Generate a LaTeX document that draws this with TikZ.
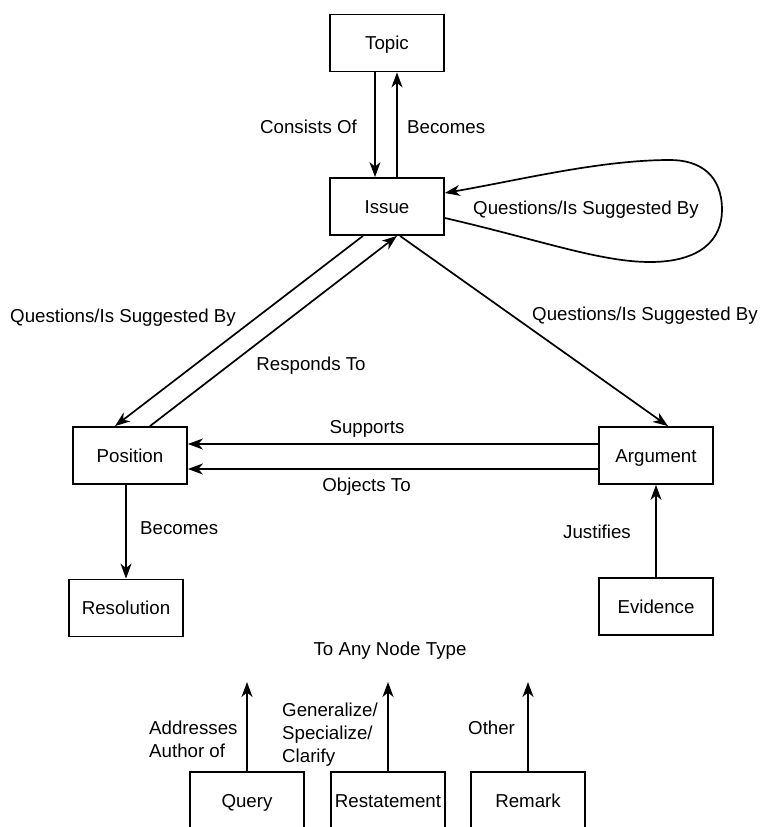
\documentclass[tikz,border=0pt]{standalone}
\usepackage{fontspec}
\setmainfont{Liberation Sans}
\usetikzlibrary{arrows.meta,calc}
\begin{document}
\begin{tikzpicture}[x=1pt,y=-1pt,
  every node/.style={font=\fontsize{18.7}{23}\selectfont},
  box/.style={draw,line width=1.8pt,minimum width=114pt,minimum height=57pt,inner sep=0pt,
    text height=13.4pt,text depth=0pt},
  lbl/.style={inner sep=0pt,anchor=base},
  arr/.style={line width=1.7pt,-{Stealth[length=15pt,width=11pt,inset=4.5pt]}}]
\clip (0,0) rectangle (760,827);
\useasboundingbox (0,0) rectangle (760,827);

% node boxes
\node[box] (topic) at (387,43) {Topic};
\node[box] (issue) at (387,206.5) {Issue};
\node[box] (position) at (130,455.5) {Position};
\node[box] (argument) at (656,455.5) {Argument};
\node[box] (resolution) at (126,608) {Resolution};
\node[box] (evidence) at (656,606.5) {Evidence};
\node[box] (query) at (247,800.5) {Query};
\node[box] (restatement) at (388,800.5) {Restatement};
\node[box] (remark) at (528,800.5) {Remark};

% free ends of the arrows pointing to any node type
\coordinate (qtop) at (247,682);
\coordinate (rtop) at (388,682);
\coordinate (mtop) at (528,682);

% topic <-> issue
\draw[arr] ($(topic.south)+(-12,0)$) -- ($(issue.north)+(-12,0)$);
\draw[arr] ($(issue.north)+(10,0)$) -- ($(topic.south)+(10,0)$);
\node[lbl,anchor=base east] (lconsists) at (357,133) {Consists Of};
\node[lbl,anchor=base west] (lbecomes1) at (407,133) {Becomes};

% self loop on issue
\draw[arr] ($(issue.east)+(0,11.5)$) .. controls (540,240) and (600,262) .. (650,262)
  .. controls (700,262) and (722,240) .. (722,210)
  .. controls (722,175) and (700,160) .. (670,160)
  .. controls (600,160) and (520,180) .. ($(issue.east)+(0,-13.5)$);
\node[lbl,anchor=base west] (lloop) at (473,214) {Questions/Is Suggested By};

% issue <-> position, issue -> argument
\draw[arr] ($(issue.south)+(-24,0)$) -- ($(position.north)+(-15,0)$);
\draw[arr] ($(position.north)+(20,0)$) -- ($(issue.south)+(10,0)$);
\draw[arr] ($(issue.south)+(13,0)$) -- ($(argument.north)+(12,0)$);
\node[lbl] (lqleft) at (123,322) {Questions/Is Suggested By};
\node[lbl] (lresponds) at (311,370) {Responds To};
\node[lbl] (lqright) at (645,320) {Questions/Is Suggested By};

% argument -> position
\draw[arr] ($(argument.west)+(0,-11.5)$) -- ($(position.east)+(0,-11.5)$);
\draw[arr] ($(argument.west)+(0,13.5)$) -- ($(position.east)+(0,13.5)$);
\node[lbl] (lsupports) at (367,433) {Supports};
\node[lbl] (lobjects) at (366.5,491) {Objects To};

% position -> resolution, evidence -> argument
\draw[arr] ($(position.south)+(-4,0)$) -- (resolution.north);
\node[lbl,anchor=base west] (lbecomes2) at (140,534) {Becomes};
\draw[arr] (evidence.north) -- (argument.south);
\node[lbl] (ljustifies) at (597,538) {Justifies};

% links to any node type
\node[lbl] (lany) at (390,655) {To Any Node Type};
\draw[arr] (query.north) -- (qtop);
\draw[arr] (restatement.north) -- (rtop);
\draw[arr] (remark.north) -- (mtop);
\node[lbl,anchor=base west,align=left] (laddr) at (149,757) {Addresses\\Author of};
\node[lbl,anchor=base west,align=left] (lgen) at (282,762) {Generalize/\\Specialize/\\Clarify};
\node[lbl,anchor=base west] (lother) at (468,734) {Other};
\end{tikzpicture}
\end{document}
